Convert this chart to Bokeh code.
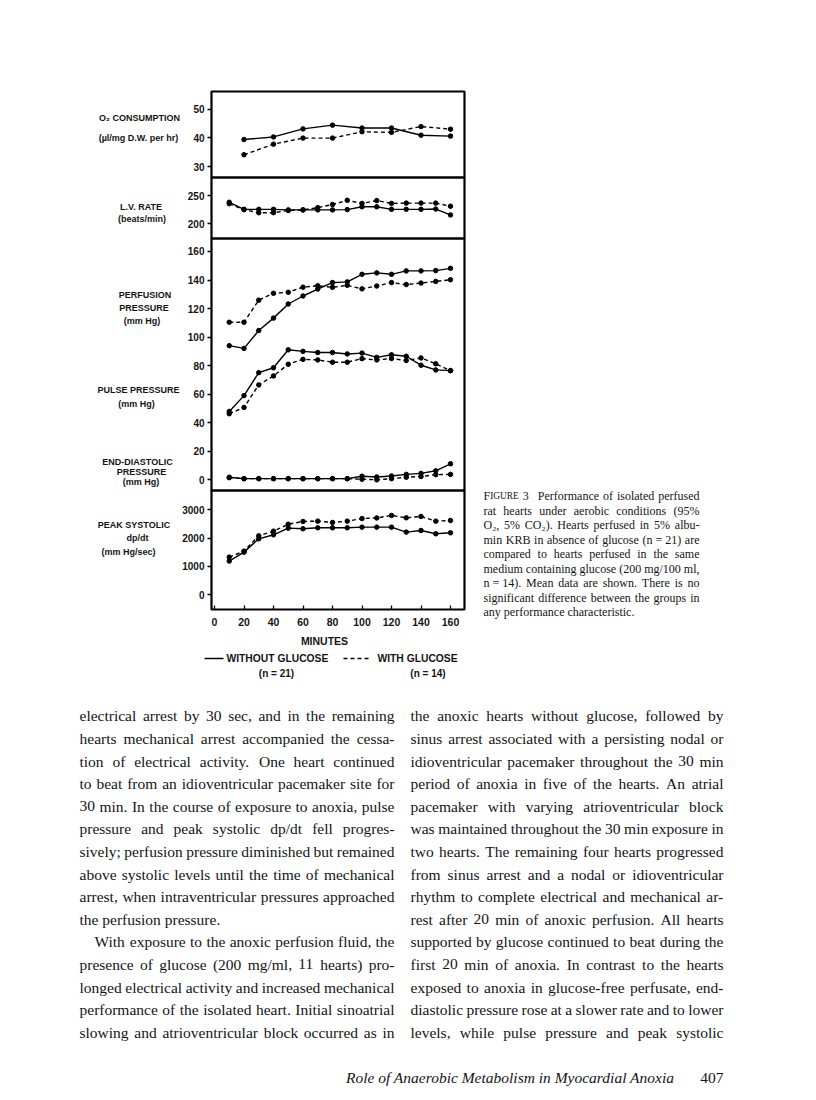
from bokeh.plotting import figure
from bokeh.models import Range1d, ColumnDataSource, FixedTicker, LinearAxis, Grid
from bokeh.embed import file_html
from bokeh.resources import INLINE
from bokeh.core.properties import value

# ---------------- data ----------------
minutes = [10, 20, 30, 40, 50, 60, 70, 80, 90, 100, 110, 120, 130, 140, 150, 160]
o2_minutes = [20, 40, 60, 80, 100, 120, 140, 160]
o2_without = [39.4, 40.3, 43.1, 44.4, 43.4, 43.4, 40.9, 40.6]
o2_with = [34.1, 37.8, 39.9, 39.9, 42.1, 41.9, 43.9, 43.0]
lv_without = [238, 225.5, 225.5, 225.5, 224.5, 224.5, 224.5, 224.5, 225, 230, 230, 225.5, 225.5, 225.5, 226, 215.5]
lv_with = [235.5, 225, 219.5, 219.5, 223.5, 224.5, 228.5, 234, 241.5, 236, 241, 236, 236.5, 236.5, 236.5, 231]
perf_without = [94.0, 92.1, 104.6, 113.3, 123.2, 128.8, 133.7, 138.2, 138.7, 144.0, 145.0, 144.0, 146.4, 146.4, 146.6, 148.2]
perf_with = [110.4, 110.4, 125.9, 130.7, 131.4, 135.0, 136.0, 134.9, 136.3, 133.8, 135.8, 138.2, 136.8, 137.9, 139.0, 140.2]
pulse_without = [47.9, 59.0, 75.1, 78.5, 91.1, 90.0, 89.2, 89.2, 88.2, 88.8, 85.8, 87.6, 86.6, 80.3, 77.0, 76.5]
pulse_with = [46.3, 50.7, 66.5, 72.8, 81.0, 84.4, 84.0, 82.4, 82.4, 84.9, 84.0, 85.0, 83.6, 85.4, 81.3, 76.5]
edp_without = [1.8, 0.8, 0.8, 0.8, 0.8, 0.8, 0.8, 0.8, 0.8, 2.5, 2.0, 2.7, 3.8, 4.5, 6.3, 11.2]
edp_with = [1.5, 0.8, 0.8, 0.8, 0.8, 0.8, 0.8, 0.8, 0.8, 0.4, 0.0, 0.8, 1.8, 2.3, 3.6, 3.8]
dpdt_without = [1190, 1506, 1976, 2118, 2353, 2330, 2365, 2365, 2365, 2388, 2388, 2388, 2212, 2270, 2153, 2188]
dpdt_with = [1330, 1541, 2080, 2247, 2490, 2588, 2600, 2553, 2600, 2690, 2712, 2800, 2718, 2765, 2600, 2623]

x_ticks = [0, 20, 40, 60, 80, 100, 120, 140, 160]
o2_ticks = [30, 40, 50]
lv_ticks = [200, 250]
pressure_ticks = [0, 20, 40, 60, 80, 100, 120, 140, 160]
dpdt_ticks = [0, 1000, 2000, 3000]

x_label = "MINUTES"
legend_without = ["WITHOUT GLUCOSE", "(n = 21)"]
legend_with = ["WITH GLUCOSE", "(n = 14)"]

panel_titles = [
    ("O\u2082 CONSUMPTION", 139, 117), ("(\u00b5l/mg D.W. per hr)", 138, 137),
    ("L.V. RATE", 140.5, 206), ("(beats/min)", 141.5, 218),
    ("PERFUSION", 144.5, 294), ("PRESSURE", 143.5, 307), ("(mm Hg)", 141.5, 320),
    ("PULSE PRESSURE", 138, 389), ("(mm Hg)", 136, 403),
    ("END-DIASTOLIC", 137, 461), ("PRESSURE", 141, 471), ("(mm Hg)", 140.5, 481),
    ("PEAK SYSTOLIC", 133.5, 524), ("dp/dt", 137, 537), ("(mm Hg/sec)", 128, 551),
]

caption_lines = [
    "FIGURE 3 Performance of isolated perfused",
    "rat hearts under aerobic conditions (95%",
    "O\u2082, 5% CO\u2082). Hearts perfused in 5% albu-",
    "min KRB in absence of glucose (n\u00a0=\u00a021) are",
    "compared to hearts perfused in the same",
    "medium containing glucose (200 mg/100 ml,",
    "n\u00a0=\u00a014). Mean data are shown. There is no",
    "significant difference between the groups in",
    "any performance characteristic.",
]

left_col = [
    "electrical arrest by 30 sec, and in the remaining",
    "hearts mechanical arrest accompanied the cessa-",
    "tion of electrical activity. One heart continued",
    "to beat from an idioventricular pacemaker site for",
    "30 min. In the course of exposure to anoxia, pulse",
    "pressure and peak systolic dp/dt fell progres-",
    "sively; perfusion pressure diminished but remained",
    "above systolic levels until the time of mechanical",
    "arrest, when intraventricular pressures approached",
    "the perfusion pressure.",
    "With exposure to the anoxic perfusion fluid, the",
    "presence of glucose (200 mg/ml, 11 hearts) pro-",
    "longed electrical activity and increased mechanical",
    "performance of the isolated heart. Initial sinoatrial",
    "slowing and atrioventricular block occurred as in",
]
right_col = [
    "the anoxic hearts without glucose, followed by",
    "sinus arrest associated with a persisting nodal or",
    "idioventricular pacemaker throughout the 30 min",
    "period of anoxia in five of the hearts. An atrial",
    "pacemaker with varying atrioventricular block",
    "was maintained throughout the 30 min exposure in",
    "two hearts. The remaining four hearts progressed",
    "from sinus arrest and a nodal or idioventricular",
    "rhythm to complete electrical and mechanical ar-",
    "rest after 20 min of anoxic perfusion. All hearts",
    "supported by glucose continued to beat during the",
    "first 20 min of anoxia. In contrast to the hearts",
    "exposed to anoxia in glucose-free perfusate, end-",
    "diastolic pressure rose at a slower rate and to lower",
    "levels, while pulse pressure and peak systolic",
]
footer_title = "Role of Anaerobic Metabolism in Myocardial Anoxia"
page_number = "407"

# ---------------- Times-compatible widths (per 1000 em) ----------------
TW = {}
for chars, w in [("acez", 444), ("bdghknopquvxy", 500), ("fr", 333), ("ijlt", 278), ("m", 778),
                 ("s", 389), ("w", 722), ("0123456789", 500),
                 ("ADGHKNOQUVXY", 722), ("BCR", 667), ("ELTZ", 611), ("FPS", 556), ("I", 333),
                 ("J", 389), ("M", 889), ("W", 944),
                 (" .,\u00a0", 250), (";:/", 278), ("()-", 333), ("%", 833), ("=", 564), ("\u2082", 330)]:
    for c in chars:
        TW[c] = w


def tw(s, fs):
    return sum(TW.get(c, 500) for c in s) * fs / 1000.0


# ---------------- page figure (page pixel coordinates, y downwards) ----------------
W, H = 816, 1100
SANS = "Liberation Sans"
SERIF = "Liberation Serif"
INK = "#141414"

p = figure(width=W, height=H, x_range=Range1d(0, W), y_range=Range1d(H, 0),
           toolbar_location=None, output_backend="svg",
           x_axis_location=None, y_axis_location=None,
           min_border=0, min_border_left=0, min_border_right=0, min_border_top=0, min_border_bottom=0)
p.outline_line_color = None
p.background_fill_color = "white"
p.border_fill_color = "white"

# chart geometry (page px)
FL, FR = 211, 464
X0_PX, X_SCALE = 214.0, 1.475           # minute 0 position, px per minute
p.extra_x_ranges = {"min": Range1d(-X0_PX / X_SCALE, (W - X0_PX) / X_SCALE)}

GEO = {
    "o2": dict(top=91, bottom=177, y0=26.2, y1=56.1, ticks=o2_ticks),
    "lv": dict(top=177, bottom=238, y0=173.8, y1=281.9, ticks=lv_ticks),
    "pr": dict(top=238, bottom=490, y0=-7.5, y1=169.1, ticks=pressure_ticks),
    "dp": dict(top=490, bottom=609, y0=-519, y1=3681, ticks=dpdt_ticks),
}
for k, g in GEO.items():
    s = (g["y1"] - g["y0"]) / (g["bottom"] - g["top"])
    top_val = g["y1"] + g["top"] * s
    bot_val = g["y1"] - (H - g["top"]) * s
    p.extra_y_ranges[k] = Range1d(bot_val, top_val)

# panel frames
p.quad(left=[FL] * 4, right=[FR] * 4, top=[g["top"] for g in GEO.values()],
       bottom=[g["bottom"] for g in GEO.values()], fill_color=None, line_color="black", line_width=2.2)

# y axes, one per panel, pinned to the frame's left edge
for k, g in GEO.items():
    ax = LinearAxis(y_range_name=k, fixed_location=FL, ticker=FixedTicker(ticks=g["ticks"]))
    ax.axis_line_color = None
    ax.major_tick_out = 4
    ax.major_tick_in = 0
    ax.major_tick_line_width = 1.3
    ax.minor_tick_line_color = None
    ax.major_label_standoff = 3
    ax.major_label_text_font = SANS
    ax.major_label_text_font_style = "bold"
    ax.major_label_text_font_size = "10px"
    ax.major_label_text_color = INK
    p.add_layout(ax, "left")

xa = LinearAxis(x_range_name="min", fixed_location=GEO["dp"]["bottom"], ticker=FixedTicker(ticks=x_ticks))
xa.axis_line_color = None
xa.major_tick_in = 4
xa.major_tick_out = 0
xa.major_tick_line_width = 1.3
xa.minor_tick_line_color = None
xa.major_label_standoff = 8
xa.major_label_text_font = SANS
xa.major_label_text_font_style = "bold"
xa.major_label_text_font_size = "10.5px"
xa.major_label_text_color = INK
p.add_layout(xa, "below")

for gr in p.select(type=Grid):
    gr.visible = False


def series(k, xs, ys, dashed):
    kw = dict(line_color="black", line_width=1.4, x_range_name="min", y_range_name=k)
    if dashed:
        kw["line_dash"] = "4 3"
    p.line(xs, ys, **kw)
    p.scatter(xs, ys, size=4.5, color="black", x_range_name="min", y_range_name=k)


series("o2", o2_minutes, o2_without, False)
series("o2", o2_minutes, o2_with, True)
series("lv", minutes, lv_without, False)
series("lv", minutes, lv_with, True)
series("pr", minutes, perf_without, False)
series("pr", minutes, perf_with, True)
series("pr", minutes, pulse_without, False)
series("pr", minutes, pulse_with, True)
series("pr", minutes, edp_without, False)
series("pr", minutes, edp_with, True)
series("dp", minutes, dpdt_without, False)
series("dp", minutes, dpdt_with, True)

# panel titles
tsrc = ColumnDataSource(dict(x=[t[1] for t in panel_titles], y=[t[2] for t in panel_titles],
                             t=[t[0] for t in panel_titles]))
p.text("x", "y", "t", source=tsrc, text_font=value(SANS), text_font_style=value("bold"),
       text_font_size=value("9px"), text_baseline=value("middle"), text_align=value("center"),
       text_color=INK)

# x-axis title
xl_src = ColumnDataSource(dict(x=[324], y=[640], t=[x_label]))
p.text("x", "y", "t", source=xl_src, text_font=value(SANS), text_font_style=value("bold"),
       text_font_size=value("10.5px"), text_baseline=value("middle"), text_align=value("center"),
       text_color=INK)

# legend
p.segment(x0=[204], y0=[658], x1=[223], y1=[658], line_color="black", line_width=1.4)
p.segment(x0=[343], y0=[658], x1=[369], y1=[658], line_color="black", line_width=1.4, line_dash="4 3")
leg_src = ColumnDataSource(dict(x=[226, 377], y=[658, 658], t=[legend_without[0], legend_with[0]]))
p.text("x", "y", "t", source=leg_src, text_font=value(SANS), text_font_style=value("bold"),
       text_font_size=value("10.3px"), text_baseline=value("middle"), text_align=value("left"), text_color=INK)
leg_src2 = ColumnDataSource(dict(x=[276, 427.5], y=[673, 673], t=[legend_without[1], legend_with[1]]))
p.text("x", "y", "t", source=leg_src2, text_font=value(SANS), text_font_style=value("bold"),
       text_font_size=value("10px"), text_baseline=value("middle"), text_align=value("center"), text_color=INK)

# ---------------- figure caption (right of chart), justified ----------------
CAP_L, CAP_R, CAP_FS, CAP_SC = 483, 699, 12, 9.4
cap_base0, cap_step = 495.5, 14.55
cx, cy, ct, cs = [], [], [], []
for i, line in enumerate(caption_lines):
    words = line.split(" ")
    widths = [tw("F", CAP_FS) + tw("IGURE", CAP_SC) if w == "FIGURE" else tw(w, CAP_FS) for w in words]
    extra = 5 if i == 0 else 0
    if i < len(caption_lines) - 1:
        gap = (CAP_R - CAP_L - sum(widths) - extra) / (len(words) - 1)
    else:
        gap = tw(" ", CAP_FS)
    x = CAP_L
    base = cap_base0 + i * cap_step
    for w, wd in zip(words, widths):
        if w == "FIGURE":
            cx += [x, x + tw("F", CAP_FS)]
            cy += [base, base]
            ct += ["F", "IGURE"]
            cs += ["%gpx" % CAP_FS, "%gpx" % CAP_SC]
        else:
            cx.append(x)
            cy.append(base)
            ct.append(w)
            cs.append("%gpx" % CAP_FS)
        x += wd + gap
        if w == "3" and i == 0:
            x += extra
csrc = ColumnDataSource(dict(x=cx, y=cy, t=ct, s=cs))
p.text("x", "y", "t", source=csrc, text_font=value(SERIF), text_font_size="s",
       text_baseline=value("alphabetic"), text_align=value("left"), text_color=INK)

# ---------------- body text, two justified columns ----------------
BODY_FS = 15.5
body_base0, body_step = 715.3, 22.6
cols = [(left_col, 79, 394, {9}, {10: 15}), (right_col, 410, 723, set(), {})]
bx, by, bt = [], [], []
for lines, L, R, ragged, indents in cols:
    for i, line in enumerate(lines):
        words = line.split(" ")
        widths = [tw(w, BODY_FS) for w in words]
        start = L + indents.get(i, 0)
        if i in ragged or len(words) < 2:
            gap = tw(" ", BODY_FS)
        else:
            gap = (R - start - sum(widths)) / (len(words) - 1)
        x = start
        for w, wd in zip(words, widths):
            bx.append(x)
            by.append(body_base0 + i * body_step)
            bt.append(w)
            x += wd + gap
body_src = ColumnDataSource(dict(x=bx, y=by, t=bt))
p.text("x", "y", "t", source=body_src, text_font=value(SERIF), text_font_size=value("15.5px"),
       text_baseline=value("alphabetic"), text_align=value("left"), text_color=INK)

foot_src = ColumnDataSource(dict(x=[674], y=[1077], t=[footer_title]))
p.text("x", "y", "t", source=foot_src, text_font=value(SERIF), text_font_style=value("italic"),
       text_font_size=value("15.5px"), text_baseline=value("alphabetic"), text_align=value("right"), text_color=INK)
num_src = ColumnDataSource(dict(x=[723], y=[1077], t=[page_number]))
p.text("x", "y", "t", source=num_src, text_font=value(SERIF), text_font_size=value("15.5px"),
       text_baseline=value("alphabetic"), text_align=value("right"), text_color=INK)

open("out.html", "w").write(file_html(p, INLINE))
